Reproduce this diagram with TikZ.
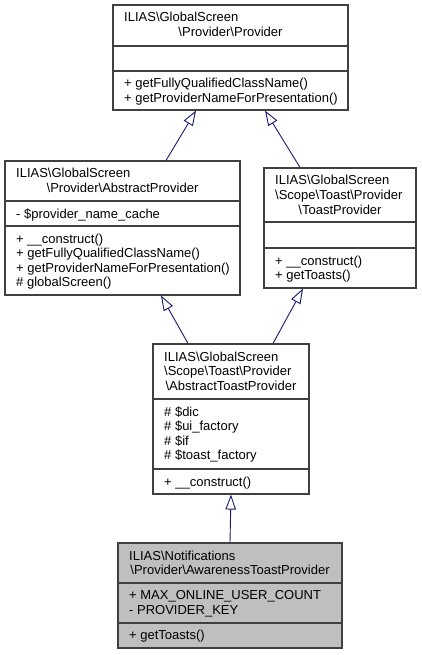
\documentclass[tikz,border=0pt]{standalone}
\usepackage{fontspec}
\setmainfont{Liberation Sans}
\usepackage{xcolor}
\usetikzlibrary{positioning,arrows.meta}

\definecolor{boxgray}{HTML}{404040}
\definecolor{edgeblue}{HTML}{191970}
\definecolor{curfill}{HTML}{BFBFBF}

\begin{document}
\begin{tikzpicture}[x=1pt,y=1pt,
  classbox/.style={draw=boxgray, line width=1.1pt, fill=white, rectangle},
  curbox/.style={classbox, fill=curfill},
  sep/.style={draw=boxgray, line width=1.1pt},
  txt/.style={font=\fontsize{13}{14.6}\selectfont, anchor=base west},
  ctxt/.style={txt, anchor=base},
  inherit/.style={draw=edgeblue, line width=0.9pt, -{Triangle[open,length=15pt,width=10.5pt]}}]
\tikzstyle{every node}+=[inner sep=0pt]
\useasboundingbox (0,0) rectangle (421,-655);
% Provider
\node [classbox, minimum width=235, minimum height=105] (prov) at (230.5,-57.5) {};
\draw [sep] (prov.west |- 0,-46) -- (prov.east |- 0,-46);
\draw [sep] (prov.west |- 0,-71) -- (prov.east |- 0,-71);
\node [txt] (prov_t1) at (124,-22) {ILIAS\textbackslash GlobalScreen};
\node [ctxt] (prov_t2) at (230.5,-36.6) {\textbackslash Provider\textbackslash Provider};
\node [txt] (prov_m1) at (124,-88) {+ getFullyQualifiedClassName()};
\node [txt] (prov_m2) at (124,-102.6) {+ getProviderNameForPresentation()};
% AbstractProvider
\node [classbox, minimum width=235, minimum height=134] (absprov) at (122.5,-228) {};
\draw [sep] (absprov.west |- 0,-201) -- (absprov.east |- 0,-201);
\draw [sep] (absprov.west |- 0,-226) -- (absprov.east |- 0,-226);
\node [txt] (absprov_t1) at (16,-178) {ILIAS\textbackslash GlobalScreen};
\node [ctxt] (absprov_t2) at (122.5,-192.6) {\textbackslash Provider\textbackslash AbstractProvider};
\node [txt] (absprov_a1) at (16,-218) {- \$provider\_name\_cache};
\node [txt] (absprov_m1) at (16,-243) {+ \_\_construct()};
\node [txt] (absprov_m2) at (16,-257.6) {+ getFullyQualifiedClassName()};
\node [txt] (absprov_m3) at (16,-272.2) {+ getProviderNameForPresentation()};
\node [txt] (absprov_m4) at (16,-286.8) {\# globalScreen()};
% ToastProvider
\node [classbox, minimum width=152, minimum height=120] (toastprov) at (340,-228) {};
\draw [sep] (toastprov.west |- 0,-222) -- (toastprov.east |- 0,-222);
\draw [sep] (toastprov.west |- 0,-248) -- (toastprov.east |- 0,-248);
\node [txt] (toastprov_t1) at (275,-185) {ILIAS\textbackslash GlobalScreen};
\node [txt] (toastprov_t2) at (275,-199.6) {\textbackslash Scope\textbackslash Toast\textbackslash Provider};
\node [ctxt] (toastprov_t3) at (340,-214.2) {\textbackslash ToastProvider};
\node [txt] (toastprov_m1) at (275,-265) {+ \_\_construct()};
\node [txt] (toastprov_m2) at (275,-279.6) {+ getToasts()};
% AbstractToastProvider
\node [classbox, minimum width=156, minimum height=150] (abstoast) at (231,-419) {};
\draw [sep] (abstoast.west |- 0,-399) -- (abstoast.east |- 0,-399);
\draw [sep] (abstoast.west |- 0,-469) -- (abstoast.east |- 0,-469);
\node [txt] (abstoast_t1) at (164,-361) {ILIAS\textbackslash GlobalScreen};
\node [txt] (abstoast_t2) at (164,-375.6) {\textbackslash Scope\textbackslash Toast\textbackslash Provider};
\node [ctxt] (abstoast_t3) at (231,-390.2) {\textbackslash AbstractToastProvider};
\node [txt] (abstoast_a1) at (164,-416) {\# \$dic};
\node [txt] (abstoast_a2) at (164,-430.6) {\# \$ui\_factory};
\node [txt] (abstoast_a3) at (164,-445.2) {\# \$if};
\node [txt] (abstoast_a4) at (164,-459.8) {\# \$toast\_factory};
\node [txt] (abstoast_m1) at (164,-486) {+ \_\_construct()};
% AwarenessToastProvider
\node [curbox, minimum width=224, minimum height=105] (aware) at (230,-595.5) {};
\draw [sep] (aware.west |- 0,-583) -- (aware.east |- 0,-583);
\draw [sep] (aware.west |- 0,-623) -- (aware.east |- 0,-623);
\node [txt] (aware_t1) at (129,-560) {ILIAS\textbackslash Notifications};
\node [ctxt] (aware_t2) at (230,-574.6) {\textbackslash Provider\textbackslash AwarenessToastProvider};
\node [txt] (aware_a1) at (129,-599.5) {+ MAX\_ONLINE\_USER\_COUNT};
\node [txt] (aware_a2) at (129,-614.1) {- PROVIDER\_KEY};
\node [txt] (aware_m1) at (129,-639) {+ getToasts()};
% inheritance
\draw [inherit] (absprov.north -| 166,0) -- (prov.south -| 196,0);
\draw [inherit] (toastprov.north -| 300,0) -- (prov.south -| 265,0);
\draw [inherit] (abstoast.north -| 188,0) -- (absprov.south -| 161,0);
\draw [inherit] (abstoast.north -| 273,0) -- (toastprov.south -| 303,0);
\draw [inherit] (aware.north) -- (abstoast.south);
\end{tikzpicture}
\end{document}
